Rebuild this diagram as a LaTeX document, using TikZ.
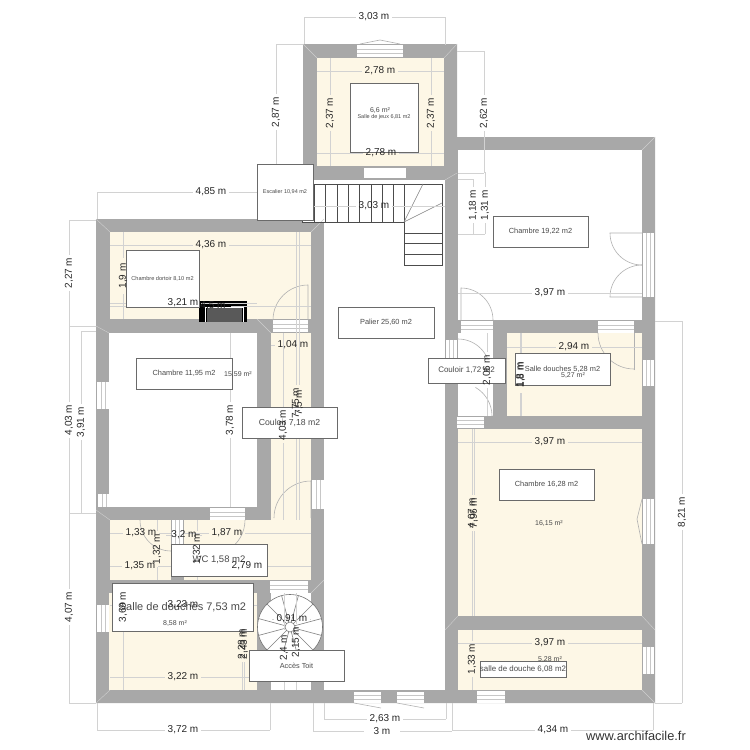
\documentclass[tikz,border=0pt]{standalone}
\usepackage{fontspec}
\setmainfont{Liberation Sans}

\definecolor{wallgrey}{HTML}{A8A8A8}
\definecolor{roomcream}{HTML}{FDF7E6}
\definecolor{dimgrey}{HTML}{D2D2D2}
\definecolor{boxgrey}{HTML}{6A6A6A}
\definecolor{labelgrey}{HTML}{4A4A4A}

\tikzset{
    roomfill/.style={fill=roomcream},
    plainfill/.style={fill=white},
    dimline/.style={draw=dimgrey, line width=0.6pt},
    dimtext/.style={inner sep=0pt, text=black!85, font=\fontsize{10}{10}\selectfont},
    roombox/.style={draw=boxgrey, fill=white, line width=0.8pt, text=labelgrey, inner sep=0pt, align=center},
    areatext/.style={inner sep=0pt, text=labelgrey, font=\fontsize{7}{7}\selectfont},
    stairline/.style={draw=black!70, line width=0.6pt},
    swing/.style={draw=black!30, line width=0.6pt},
    sill/.style={draw=black!22, line width=0.5pt}
}

% dimensions: y / from / to / text position / text
\def\hdims{17/304/445/374/{3,03 m},71/317/444/380/{2,78 m},153/317/444/381/{2,78 m},206/304/445/374/{3,03 m},192/97/313/211/{4,85 m},245/110/311/211/{4,36 m},303/110/257/183/{3,21 m},306/110/311/213/{4,5 m},345/271/311/293/{1,04 m},533/110/171/141/{1,33 m},535/171/200/184/{3,2 m},533/184/311/227/{1,87 m},566/110/171/140/{1,35 m},566/184/311/247/{2,79 m},605/110/257/183/{3,23 m},677/110/257/183/{3,22 m},619/272/311/292/{0,91 m},730/97/270/183/{3,72 m},719/324/446/385/{2,63 m},731/313/452/382/{3 m},730/452/653/553/{4,34 m},293/458/642/550/{3,97 m},347/507/642/574/{2,94 m},442/458/642/550/{3,97 m},643/458/642/550/{3,97 m}}
% dimensions: x / from / to / text position / text
\def\vdims{276/44/178/112/{2,87 m},330/58/166/113/{2,37 m},431/58/166/113/{2,37 m},484/51/173/113/{2,62 m},473/179/234/205/{1,18 m},485/172/234/205/{1,31 m},123/232/319/276/{1,9 m},69/220/326/273/{2,27 m},69/326/513/420/{4,03 m},81/331/513/422/{3,91 m},230/333/507/420/{3,78 m},283/333/520/425/{4,03 m},296/232/520/403/{7,75 m},299/232/520/403/{7,5 m},157/520/580/549/{1,32 m},197/520/580/549/{1,32 m},69/513/703/607/{4,07 m},123/593/690/607/{3,69 m},242/593/690/644/{2,28 m},244/593/690/644/{2,43 m},284/593/690/648/{2,4 m},296/593/690/642/{2,15 m},682/321/703/512/{8,21 m},487/333/416/370/{2,06 m},520/333/416/375/{1,8 m},521/333/416/375/{1,8 m},472/429/616/513/{4,07 m},474/429/616/513/{7,96 m},472/630/690/659/{1,33 m}}

\begin{document}
\begin{tikzpicture}[x=1pt, y=-1pt]
    \useasboundingbox (0,0) rectangle (750,750);

    % walls, then the rooms cut out of them
    \fill[wallgrey] (303,44) -- (457,44) -- (457,137) -- (655,137) -- (655,703) -- (96,703) -- (96,219) -- (303,219) -- cycle;
    \fill[wallgrey] (324,580) rectangle (328,593);
    \fill[plainfill] (303,180) rectangle (445,222);
    \fill[plainfill] (324,222) rectangle (445,690);
    \fill[plainfill] (458,150) rectangle (642,320);
    \fill[plainfill] (458,333) rectangle (493,416);
    \fill[plainfill] (109,333) rectangle (257,507);
    \fill[plainfill] (271,593) rectangle (311,690);
    \fill[roomfill] (317,58) rectangle (444,166);
    \fill[roomfill] (110,232) rectangle (311,319);
    \fill[roomfill] (271,333) rectangle (311,520);
    \fill[roomfill] (110,520) rectangle (311,580);
    \fill[roomfill] (109,593) rectangle (257,690);
    \fill[roomfill] (507,333) rectangle (642,416);
    \fill[roomfill] (458,429) rectangle (642,616);
    \fill[roomfill] (458,630) rectangle (642,690);
    \fill[wallgrey] (171,520) rectangle (184,580);

    % wall corners
    \foreach \xa/\ya/\xb/\yb in {96/219/110/232,303/44/317/58,457/44/444/58,655/137/642/150,655/703/642/690,96/703/110/690,324/219/311/232,96/326/109/333,271/333/257/319,96/510/110/520,457/173/445/180,445/630/458/616,642/616/655/630,311/593/324/580}
        \draw[white!45!wallgrey, line width=0.4pt] (\xa,\ya) -- (\xb,\yb);

    % openings along a horizontal wall
    \foreach \xa/\xb/\ya/\yb in {357/403/45/57,461/493/321/333,598/634/321/333,457/484/417/428,477/505/691/703,273/308/320/332,210/245/508/520,270/308/581/593,354/381/692/703,397/424/692/703} {
        \fill[white] (\xa,\ya) rectangle (\xb,\yb);
        \draw[sill] (\xa,{(2*\ya+\yb)/3}) -- (\xb,{(2*\ya+\yb)/3});
        \draw[sill] (\xa,{(\ya+2*\yb)/3}) -- (\xb,{(\ya+2*\yb)/3});
    }
    \fill[white] (364,168) rectangle (406,178);

    % openings along a vertical wall
    \foreach \xa/\xb/\ya/\yb in {643/654/233/297,446/457/340/372,643/654/360/386,643/654/499/544,643/654/647/674,97/109/382/409,98/110/494/507,97/109/605/632,312/324/480/509,172/183/520/545} {
        \fill[white] (\xa,\ya) rectangle (\xb,\yb);
        \draw[sill] ({(2*\xa+\xb)/3},\ya) -- ({(2*\xa+\xb)/3},\yb);
        \draw[sill] ({(\xa+2*\xb)/3},\ya) -- ({(\xa+2*\xb)/3},\yb);
    }

    % window hoods
    \draw[swing] (360,44) -- (380,40) -- (400,44);
    \draw[swing] (354,703) -- (381,708) (397,703) -- (424,708);
    \draw[swing] (642,499) -- (637,519) -- (642,544);

    % door swings
    \draw[swing] (308,320) -- (308,285) arc[start angle=90, end angle=180, radius=35pt];
    \draw[swing] (311,518) -- (311,481) arc[start angle=90, end angle=180, radius=37pt];
    \draw[swing] (140,520) arc[start angle=180, end angle=270, radius=31pt];
    \draw[swing] (245,520) arc[start angle=0, end angle=-60, radius=35pt];
    \draw[swing] (461,320) -- (461,288) arc[start angle=90, end angle=0, radius=32pt];
    \draw[swing] (458,339) arc[start angle=90, end angle=0, radius=32pt];
    \draw[swing] (492,416) arc[start angle=0, end angle=60, radius=33pt];
    \draw[swing] (634,370) -- (634,333);
    \draw[swing] (598,333) arc[start angle=180, end angle=270, radius=36pt];
    \draw[swing] (642,233) -- (610,233) arc[start angle=180, end angle=270, radius=32pt];
    \draw[swing] (642,297) -- (610,297) arc[start angle=180, end angle=90, radius=32pt];

    % chimney
    \fill[black] (199,301) rectangle (247,322);
    \fill[black!65] (207,307) rectangle (242,322);
    \draw[white, line width=0.6pt] (205,322) -- (205,307) -- (243,307) -- (243,322);

    % straight stairs
    \draw[stairline] (302,222) -- (302,184) -- (442,184) -- (442,265) -- (404,265) -- (404,222) -- cycle;
    \foreach \xa in {314,325,337,348,359,371,382,393,404}
        \draw[stairline] (\xa,184) -- (\xa,222);
    \foreach \ya in {233,243,254}
        \draw[stairline] (404,\ya) -- (442,\ya);
    \draw[stairline, draw=black!50] (404,222) -- (423,184) (404,222) -- (442,203);

    % spiral stairs
    \path[stairline, fill=white, draw=black!55] (290,627) circle (32.5);
    \foreach \ang in {15,45,...,345}
        \draw[stairline, draw=black!50] (290,627) ++(\ang:5pt) -- ++(\ang:27.5pt);
    \path[stairline, fill=white, draw=black!55] (290,627) circle (5);

    % dimension lines
    \foreach \ya/\xa/\xb/\xt/\txt in \hdims
        \draw[dimline] (\xa,\ya) -- ({\xt-18},\ya) ({\xt+18},\ya) -- (\xb,\ya);
    \foreach \xa/\ya/\yb/\yt/\txt in \vdims
        \draw[dimline] (\xa,\ya) -- (\xa,{\yt-18}) (\xa,{\yt+18}) -- (\xa,\yb);
    \draw[dimline] (304,17) -- (304,44) (445,17) -- (445,45);
    \draw[dimline] (97,192) -- (97,219);
    \draw[dimline] (276,44) -- (303,44) (276,178) -- (257,178);
    \draw[dimline] (457,51) -- (484,51) (458,173) -- (484,173);
    \draw[dimline] (458,179) -- (473,179) (458,234) -- (485,234);
    \draw[dimline] (69,220) -- (96,220) (69,326) -- (96,326) (69,513) -- (96,513) (69,703) -- (96,703) (81,331) -- (96,331);
    \draw[dimline] (97,703) -- (97,730) (270,703) -- (270,730) (324,703) -- (324,719) (446,703) -- (446,719) (313,703) -- (313,731) (452,703) -- (452,731) (653,703) -- (653,730);
    \draw[dimline] (655,321) -- (682,321) (655,703) -- (682,703);

    % room labels
    \node[roombox, minimum width=68pt, minimum height=69pt] (jeux) at (384,117.5) {\fontsize{5.5}{6}\selectfont Salle de jeux 6,81 m2};
    \node[roombox, minimum width=56pt, minimum height=56pt] (escalier) at (285,192) {\fontsize{5.5}{6}\selectfont Escalier 10,94 m2};
    \node[roombox, minimum width=73pt, minimum height=57pt] (dortoir) at (162.5,278.5) {\fontsize{5.6}{6}\selectfont Chambre dortoir 8,10 m2};
    \node[roombox, minimum width=96pt, minimum height=31pt] (chambreA) at (184,373.5) {\fontsize{7.4}{8}\selectfont Chambre 11,95 m2};
    \node[roombox, minimum width=95pt, minimum height=31pt] (couloirA) at (289.5,422.5) {\fontsize{8.7}{9}\selectfont Couloir 7,18 m2};
    \node[roombox, minimum width=96pt, minimum height=32pt] (wc) at (219,560) {\fontsize{9.5}{10}\selectfont WC 1,58 m2};
    \node[roombox, minimum width=141pt, minimum height=48pt] (douchesA) at (182.5,607) {\fontsize{11}{12}\selectfont Salle de douches 7,53 m2};
    \node[roombox, minimum width=95pt, minimum height=31pt] (toit) at (296.5,665.5) {\fontsize{7.3}{8}\selectfont Accès Toit};
    \node[roombox, minimum width=96pt, minimum height=31pt] (palier) at (386,322.5) {\fontsize{7.4}{8}\selectfont Palier 25,60 m2};
    \node[roombox, minimum width=95pt, minimum height=31pt] (chambreB) at (540.5,231.5) {\fontsize{7.4}{8}\selectfont Chambre 19,22 m2};
    \node[roombox, minimum width=77pt, minimum height=25pt] (couloirB) at (466.5,370.5) {\fontsize{8}{9}\selectfont Couloir 1,72 m2};
    \node[roombox, minimum width=95pt, minimum height=32pt] (douchesB) at (562.5,369) {\fontsize{7.4}{8}\selectfont Salle douches 5,28 m2};
    \node[roombox, minimum width=95pt, minimum height=31pt] (chambreC) at (546.5,484.5) {\fontsize{7.4}{8}\selectfont Chambre 16,28 m2};
    \node[roombox, minimum width=82pt, minimum height=16pt] (douchesC) at (523,669) {\fontsize{7.9}{8}\selectfont salle de douche 6,08 m2};

    % areas
    \node[areatext] (areajeux) at (380,111) {6,6 m²};
    \node[areatext] (areachambreA) at (238,374) {15,59 m²};
    \node[areatext] (areadouchesA) at (175,623) {8,58 m²};
    \node[areatext] (areadouchesB) at (573,375) {5,27 m²};
    \node[areatext] (areachambreC) at (549,523) {16,15 m²};
    \node[areatext] (areadouchesC) at (550,659) {5,28 m²};

    % dimension texts
    \foreach \ya/\xa/\xb/\xt/\txt in \hdims
        \node[dimtext] at (\xt,\ya) {\txt};
    \foreach \xa/\ya/\yb/\yt/\txt in \vdims
        \node[dimtext, rotate=90] at (\xa,\yt) {\txt};

    \node[inner sep=0pt, font=\fontsize{12.8}{13}\selectfont, text=black!80] (site) at (636,736) {www.archifacile.fr};
\end{tikzpicture}
\end{document}
